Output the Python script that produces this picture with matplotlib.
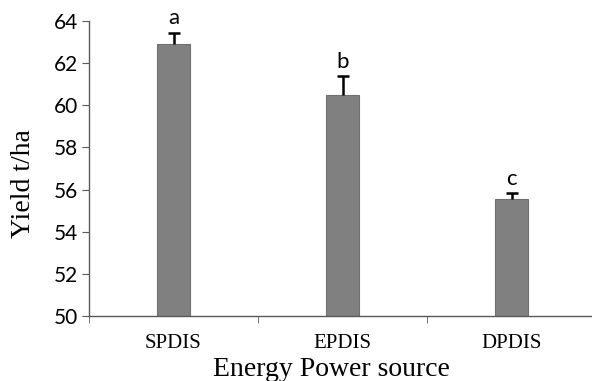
import matplotlib.pyplot as plt
import numpy as np

# data
sources = ["SPDIS", "EPDIS", "DPDIS"]
yield_t_ha = [62.9, 60.5, 55.55]
std_err = [0.55, 0.88, 0.3]
letters = ["a", "b", "c"]

fig = plt.figure(figsize=(5.92, 3.81), dpi=100)
ax = fig.add_axes([89 / 592, 65 / 381, 507 / 592, 295 / 381])

x = np.arange(len(sources))
ax.bar(x, yield_t_ha, width=0.2, color="#808080", edgecolor="#707070", linewidth=0.8, zorder=2)
eb = ax.errorbar(x, yield_t_ha, yerr=[np.zeros(len(x)), std_err], fmt="none",
                 ecolor="black", elinewidth=1.8, capsize=4.5, capthick=1.8, zorder=3)
# only the upper half of the error bar, as in the original
eb[1][0].set_visible(False)

for xi, v, e, s in zip(x, yield_t_ha, std_err, letters):
    ax.text(xi, v + e + 0.2, s, ha="center", va="bottom", fontsize=16, family="Lato")

ax.set_xlim(-0.5, 2.5)
ax.set_ylim(50, 64)
ax.set_yticks(np.arange(50, 65, 2))
ax.set_yticklabels([str(v) for v in range(50, 65, 2)], family="Lato", fontsize=15)

ax.set_xticks(x)
ax.set_xticklabels(sources, family="Liberation Serif", fontsize=15)
ax.set_xticks([-0.5, 0.5, 1.5, 2.5], minor=True)
ax.tick_params(axis="x", which="major", length=0, pad=13)
ax.tick_params(axis="x", which="minor", length=5, direction="out", color="#595959")
ax.tick_params(axis="y", length=5, direction="out", color="#595959", pad=3)

for side in ["top", "right"]:
    ax.spines[side].set_visible(False)
for side in ["left", "bottom"]:
    ax.spines[side].set_color("#595959")
    ax.spines[side].set_linewidth(1.0)

ax.set_ylabel("Yield t/ha", family="Liberation Serif", fontsize=20)
ax.set_xlabel("Energy Power source", family="Liberation Serif", fontsize=20)
ax.yaxis.set_label_coords(-0.105, 0.45)
ax.xaxis.set_label_coords(0.479, -0.14)

fig.savefig("out.png", dpi=100)
